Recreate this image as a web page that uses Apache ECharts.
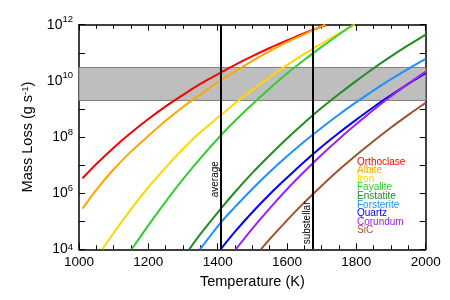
<!DOCTYPE html>
<html><head><meta charset="utf-8">
<script src="https://cdn.jsdelivr.net/npm/echarts@6/dist/echarts.min.js"></script>
<style>html,body{margin:0;padding:0;background:#fff}#c{width:450px;height:300px}</style>
</head><body><div id="c"></div>
<script>
// ---- data (log10 of mass loss in g/s) ----
const mineralNames = ['Orthoclase','Albite','Iron','Fayalite','Enstatite','Forsterite','Quartz','Corundum','SiC'];
const mineralColors = ['#ff0000','#ffa500','#ffd700','#32cd32','#228b22','#1e90ff','#0000ff','#a020f0','#a0522d'];

const orthoclaseT   = [1010,1050,1100,1150,1200,1250,1300,1350,1410,1450,1500,1550,1600,1650,1714];
const orthoclaseLog = [6.53,7.04,7.62,8.15,8.64,9.09,9.50,9.89,10.30,10.57,10.88,11.17,11.44,11.70,12.0];

const albiteT   = [1010,1050,1100,1150,1200,1250,1300,1350,1410,1450,1500,1550,1600,1650,1710];
const albiteLog = [5.45,6.12,6.85,7.48,8.04,8.58,9.07,9.52,10.03,10.33,10.71,11.06,11.38,11.66,12.0];

const ironT   = [1067,1100,1150,1200,1250,1300,1350,1410,1450,1500,1550,1600,1650,1700,1750,1795];
const ironLog = [4.0,4.58,5.43,6.21,6.91,7.57,8.17,8.79,9.20,9.68,10.13,10.56,10.96,11.33,11.69,12.0];

const fayaliteT   = [1152,1200,1250,1300,1350,1410,1450,1500,1550,1600,1650,1700,1750,1790];
const fayaliteLog = [4.0,4.85,5.70,6.50,7.24,8.07,8.58,9.17,9.73,10.26,10.75,11.21,11.65,12.0];

const enstatiteT   = [1318,1350,1410,1450,1500,1550,1600,1650,1700,1750,1800,1850,1900,1950,2000];
const enstatiteLog = [4.0,4.54,5.46,6.04,6.72,7.35,7.95,8.51,9.04,9.53,10.0,10.45,10.87,11.27,11.65];

const forsteriteT   = [1349,1410,1450,1500,1550,1600,1650,1700,1750,1800,1850,1900,1950,2000];
const forsteriteLog = [4.0,4.97,5.51,6.15,6.75,7.31,7.84,8.33,8.80,9.24,9.66,10.06,10.43,10.78];

const quartzT   = [1410,1450,1500,1550,1600,1650,1700,1750,1800,1850,1900,1950,2000];
const quartzLog = [4.02,4.63,5.32,5.96,6.55,7.12,7.65,8.15,8.62,9.07,9.49,9.89,10.27];

const corundumT   = [1452,1500,1550,1600,1650,1700,1750,1800,1850,1900,1950,2000];
const corundumLog = [4.0,4.74,5.46,6.14,6.77,7.37,7.93,8.46,8.97,9.45,9.90,10.33];

const sicT   = [1525,1550,1600,1650,1700,1750,1800,1850,1900,1950,2000];
const sicLog = [4.0,4.36,5.03,5.67,6.26,6.83,7.36,7.86,8.34,8.79,9.22];

const bandLow = 2e9, bandHigh = 3e10;
const averageT = 1410, substellarT = 1675;
const xTicks = {min:1000, max:2000, step:200};
const yRange = {min:1e4, max:1e12};

// ----
const seriesT = [orthoclaseT, albiteT, ironT, fayaliteT, enstatiteT, forsteriteT, quartzT, corundumT, sicT];
const seriesLog = [orthoclaseLog, albiteLog, ironLog, fayaliteLog, enstatiteLog, forsteriteLog, quartzLog, corundumLog, sicLog];

const FONT = 'Liberation Sans, Arial, Helvetica, sans-serif';
const chart = echarts.init(document.getElementById('c'), null, {renderer:'canvas'});

function yLabel(v){
  const e = Math.round(Math.log10(v));
  if (e % 2) return '';
  if (e === 12) return '{bt|10}{st|' + e + '}';
  if (e === 4) return '{bb|10}{sb|' + e + '}';
  return '{b|10}{s|' + e + '}';
}

const axisCommon = {
  axisLine:{show:true, onZero:false, lineStyle:{color:'#000', width:1.5}},
  splitLine:{show:false},
};

const lines = mineralNames.map((n,i)=>({
  name:n, type:'line', xAxisIndex:0, yAxisIndex:0, z:3,
  data: seriesT[i].map((t,j)=>[t, Math.pow(10, seriesLog[i][j])]),
  showSymbol:false, smooth:0.3, clip:true,
  lineStyle:{color:mineralColors[i], width:2}, itemStyle:{color:mineralColors[i]},
  emphasis:{disabled:true}, silent:true
}));

const option = {
  animation:false,
  backgroundColor:'#fff',
  grid:{left:79, right:24.3, top:24.7, bottom:50.7, containLabel:false},
  xAxis:[
    Object.assign({type:'value', min:xTicks.min, max:xTicks.max, interval:xTicks.step, position:'bottom',
      name:'Temperature (K)', nameLocation:'middle', nameGap:21,
      nameTextStyle:{fontSize:14.5, color:'#000', fontFamily:FONT},
      axisTick:{show:true, inside:true, length:6, lineStyle:{color:'#000', width:1}},
      minorTick:{show:true, splitNumber:4, length:4, lineStyle:{color:'#000', width:1}},
      axisLabel:{fontSize:13.5, color:'#000', fontFamily:FONT, margin:6, formatter:(v)=>String(v)}}, axisCommon),
    Object.assign({type:'value', min:xTicks.min, max:xTicks.max, interval:xTicks.step, position:'top',
      axisTick:{show:true, inside:true, length:6, lineStyle:{color:'#000', width:1}},
      minorTick:{show:true, splitNumber:4, length:4, lineStyle:{color:'#000', width:1}},
      axisLabel:{show:false}}, axisCommon)
  ],
  yAxis:[
    Object.assign({type:'log', logBase:10, min:yRange.min, max:yRange.max, splitNumber:8, position:'left',
      name:'Mass Loss (g s{sup|-1})', nameLocation:'middle', nameGap:40,
      nameTextStyle:{fontSize:14.5, color:'#000', fontFamily:FONT,
        rich:{sup:{fontSize:9.5, verticalAlign:'top', padding:[0,0,6,0], fontFamily:FONT, color:'#000'}}},
      axisTick:{show:true, inside:true, length:6, lineStyle:{color:'#000', width:1}},
      axisLabel:{color:'#000', fontFamily:FONT, margin:6, formatter:yLabel,
        rich:{
          b:{fontSize:14, lineHeight:14, verticalAlign:'bottom', fontFamily:FONT, color:'#000'},
          s:{fontSize:9.5, lineHeight:10, verticalAlign:'bottom', padding:[0,0,7,0], fontFamily:FONT, color:'#000'},
          bt:{fontSize:14, lineHeight:14, verticalAlign:'bottom', padding:[10,0,0,0], fontFamily:FONT, color:'#000'},
          st:{fontSize:9.5, lineHeight:10, verticalAlign:'bottom', padding:[0,0,7,0], fontFamily:FONT, color:'#000'},
          bb:{fontSize:14, lineHeight:14, verticalAlign:'top', padding:[0,0,7,0], fontFamily:FONT, color:'#000'},
          sb:{fontSize:9.5, lineHeight:10, verticalAlign:'top', fontFamily:FONT, color:'#000'}
        }}}, axisCommon),
    Object.assign({type:'log', logBase:10, min:yRange.min, max:yRange.max, splitNumber:8, position:'right',
      axisTick:{show:true, inside:true, length:6, lineStyle:{color:'#000', width:1}},
      axisLabel:{show:false}}, axisCommon)
  ],
  legend:{
    orient:'vertical', left:352, top:157, padding:0, itemGap:-1.45, itemWidth:0, itemHeight:0,
    icon:'rect', selectedMode:false,
    textStyle:{fontSize:10, fontFamily:FONT},
    data: mineralNames.map((n,i)=>({name:n, textStyle:{color:mineralColors[i]}}))
  },
  series:[
    {name:'band', type:'line', xAxisIndex:0, yAxisIndex:0, z:1, data:[], silent:true,
      markArea:{silent:true, itemStyle:{color:'#bebebe', borderColor:'#808080', borderWidth:1},
        data:[[{yAxis:bandLow},{yAxis:bandHigh}]]}},
    ...lines,
    {name:'marks', type:'line', xAxisIndex:0, yAxisIndex:0, z:5, data:[], silent:true,
      markLine:{silent:true, symbol:'none', animation:false,
        lineStyle:{color:'#000', width:2, type:'solid'},
        label:{show:true, position:'insideStartTop', distance:1, color:'#000', fontSize:10, fontFamily:FONT, formatter:'{b}'},
        data:[
          {name:'average', xAxis:averageT, label:{padding:[0,0,0,51]}},
          {name:'substellar', xAxis:substellarT, label:{padding:[0,0,0,4]}}
        ]}}
  ]
};
chart.setOption(option);
</script></body></html>
